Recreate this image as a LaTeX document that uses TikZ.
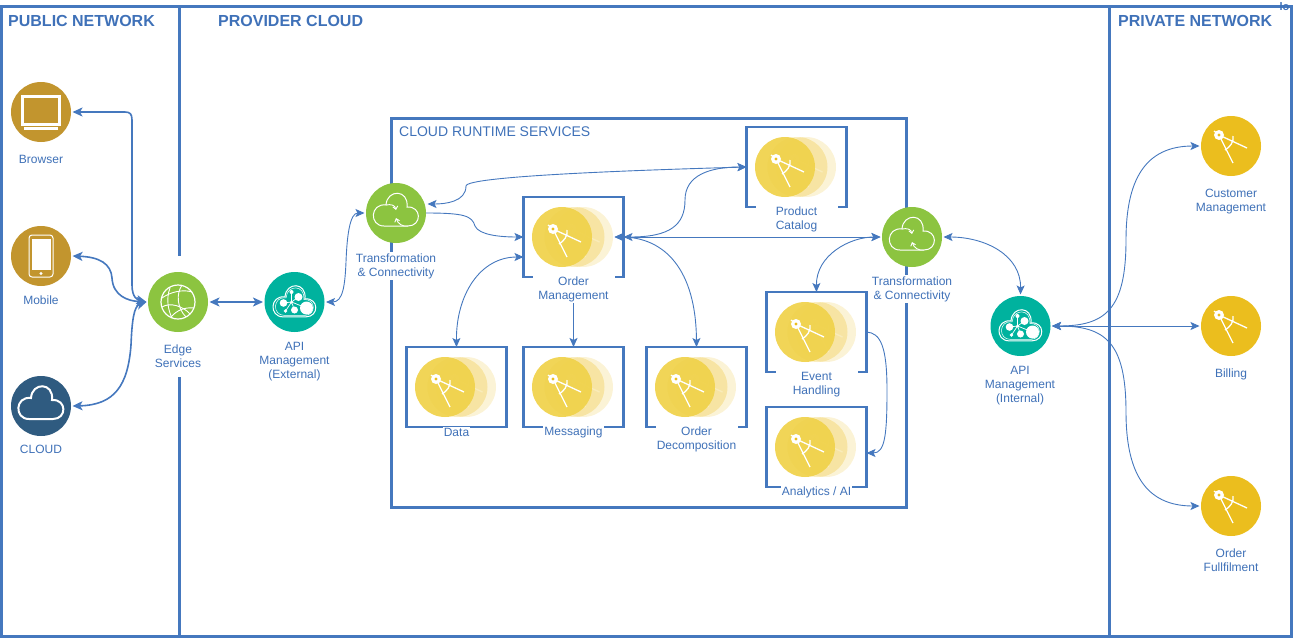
\documentclass[tikz,border=0pt]{standalone}
\usepackage{fontspec}
\setmainfont{Liberation Sans}
\usetikzlibrary{arrows.meta}
\definecolor{linkblue}{HTML}{4578BE}
\definecolor{textblue}{HTML}{3F71B8}
\definecolor{browngold}{HTML}{C2952E}
\definecolor{clouddark}{HTML}{2F5B80}
\definecolor{edgegreen}{HTML}{8CC440}
\definecolor{apiteal}{HTML}{00B29E}
\definecolor{custyellow}{HTML}{EBBE1E}
\definecolor{frontyellow}{HTML}{F0D24A}
\tikzset{
    frameline/.style = {draw = linkblue, line width = 3pt},
    boxline/.style = {draw = linkblue, line width = 2.7pt},
    hub/.style = {circle, minimum size = 60pt, inner sep = 0pt, outer sep = 1.5pt},
    servicebox/.style = {minimum width = 100pt, minimum height = 80pt, inner sep = 0pt, outer sep = 0pt},
    caption/.style = {text = textblue, fill = white, align = center, inner sep = 1pt, font = \fontsize{12}{14}\selectfont},
    heading/.style = {text = textblue, inner sep = 0pt, font = \fontsize{16}{18}\bfseries\selectfont},
    thicklink/.style = {draw = linkblue, line width = 1.6pt, <->, >={Stealth[length = 10pt, width = 9pt, inset = 2.5pt]}},
    thinlink/.style = {draw = linkblue, line width = 0.9pt, <->, >={Stealth[length = 9pt, width = 8pt, inset = 2pt]}},
    pics/compass/.style = {code = {
        \draw[white, line width = 1.3pt] (-12,-11) -- (2,17);
        \draw[white, line width = 1.3pt] (-12,-11) -- (16,2);
        \draw[white, line width = 1.3pt] (-12,-11) -- (-17,-15);
        \draw[white, line width = 1.3pt] (2,-10) .. controls (3,-4) and (-1,1) .. (-6,4);
        \fill[white] (-12,-11) circle[radius = 5];
        \fill[custyellow] (-12,-11) circle[radius = 1.6];
    }},
    pics/cloudline/.style = {code = {
        \draw[white, line width = #1] (-12,13) .. controls (-27,13) and (-26,-10) .. (-10,-8) .. controls (-9,-24) and (13,-24) .. (11,-6) .. controls (26,-7) and (26,13) .. (12,13) -- cycle;
    }},
    pics/transicon/.style = {code = {
        \pic {cloudline = 1pt};
        \draw[white, line width = 0.9pt, -{Straight Barb[length = 3pt, width = 5pt]}] (-10,-8) .. controls (-5,-9) and (-1,-8) .. (0,-3);
        \draw[white, line width = 0.9pt, -{Straight Barb[length = 3pt, width = 5pt]}] (12,13) .. controls (7,14) and (2,11) .. (0,5);
    }},
    pics/apiicon/.style = {code = {
        \pic[yshift = -2.5pt, scale = 0.95] {cloudline = 1pt};
        \pic[yshift = -2.5pt, scale = 0.84] {cloudline = 0.5pt};
        \draw[white, line width = 0.7pt] (-11,1) -- (-3,0) -- (4,-5) (-3,-10) -- (-3,0) -- (0,8) (-9,9) -- (-3,0) -- (12,6);
        \fill[white] (12,6) circle[radius = 6.5] (4,-5) circle[radius = 4] (-11,1) circle[radius = 3.8] (0,8) circle[radius = 3.5] (-3,-10) circle[radius = 2] (-9,9) circle[radius = 1.8] (-3,0) circle[radius = 1.5];
    }},
    pics/globeicon/.style = {code = {
        \draw[white, line width = 1.2pt] (0,0) circle[radius = 17];
        \draw[white, line width = 0.9pt] (-16,-4) .. controls (-8,-10) and (5,-13) .. (14,-10);
        \draw[white, line width = 0.9pt] (-16,5) .. controls (-8,0) and (5,4) .. (12,12);
        \draw[white, line width = 0.9pt] (-8,-14) .. controls (-12,-4) and (-10,8) .. (-6,16);
        \draw[white, line width = 0.9pt] (4,-17) .. controls (-2,-8) and (-1,6) .. (8,15);
        \draw[white, line width = 0.9pt] (-7,15) .. controls (-1,8) and (7,5) .. (16,6);
    }},
}
\begin{document}
\begin{tikzpicture}[x = 1pt, y = -1pt]
    \useasboundingbox (0,0) rectangle (1293,638);
    % outer frame and zones
    \draw[frameline] (1.4,6.5) rectangle (1291.5,636);
    \draw[frameline] (179,7) -- (179,256);
    \draw[frameline] (179,377) -- (179,636);
    \draw[frameline] (1109,7) -- (1109,636);
    \draw[frameline] (391,118) rectangle (906,507);
    \node[heading, anchor = west] (publicnet) at (8,21) {PUBLIC NETWORK};
    \node[heading, anchor = west] (providercloud) at (218,21) {PROVIDER CLOUD};
    \node[heading, anchor = west] (privatenet) at (1118,21) {PRIVATE NETWORK};
    \node[text = textblue, anchor = west, inner sep = 0pt, font = \fontsize{14}{16}\selectfont] (runtime) at (399,132) {CLOUD RUNTIME SERVICES};
    \node[text = textblue, inner sep = 0pt, font = \fontsize{11}{12}\bfseries\selectfont] (corner) at (1284.5,7) {lo};
    % service boxes
    \foreach \name/\cx/\cy/\stub/\ly/\txt in {
        order/573.5/237/9/289/{Order\\Management},
        catalog/796.5/167/9/219/{Product\\Catalog},
        data/456.5/387/50/432/{Data},
        messaging/573.5/387/50/432/{Messaging},
        decomp/696.5/387/9/439/{Order\\Decomposition},
        event/816.5/332/9/385/{Event\\Handling},
        analytics/816.5/447/50/492/{Analytics / AI}} {
        \node[servicebox] (\name) at (\cx,\cy) {};
        \draw[boxline] ([xshift = \stub pt]\name.south west) -- (\name.south west) -- (\name.north west) -- (\name.north east) -- (\name.south east) -- ([xshift = -\stub pt]\name.south east);
        \fill[custyellow, opacity = 0.18] (\cx+9.5,\cy) circle[radius = 30];
        \fill[custyellow, opacity = 0.28] (\cx+1,\cy) circle[radius = 30];
        \pic[opacity = 0.25] at (\cx+10,\cy+3) {compass};
        \fill[frontyellow, opacity = 0.93] (\cx-11.5,\cy) circle[radius = 30];
        \pic at (\cx-8.5,\cy+3) {compass};
        \node[caption] (\name-label) at (\cx,\ly) {\txt};
    }
    % round nodes
    \foreach \name/\cx/\cy/\col in {
        browser/41/112/browngold, mobile/41/256/browngold, cloud/41/406/clouddark,
        edge/178/302/edgegreen, apiext/294.5/302/apiteal, transin/396/213/edgegreen,
        transout/912/237/edgegreen, apiint/1020.5/326/apiteal,
        customer/1231/146/custyellow, billing/1231/326/custyellow, fulfil/1231/506/custyellow} {
        \node[hub, fill = \col] (\name) at (\cx,\cy) {};
    }
    \foreach \name/\lx/\ly/\txt in {
        browser/41/159/{Browser}, mobile/41/300/{Mobile}, cloud/41/449/{CLOUD},
        edge/178/356/{Edge\\Services}, apiext/294.5/361.5/{API\\Management\\(External)},
        transin/396/266/{Transformation\\\& Connectivity}, transout/912/289/{Transformation\\\& Connectivity},
        apiint/1020/386/{API\\Management\\(Internal)}, customer/1231/202/{Customer\\Management},
        billing/1231/374/{Billing}, fulfil/1231/560/{Order\\Fullfilment}} {
        \node[caption] (\name-label) at (\lx,\ly) {\txt};
    }
    % icons
    \foreach \name in {customer, billing, fulfil} {
        \pic at (\name) {compass};
    }
    \foreach \name in {transin, transout} {
        \pic at (\name) {transicon};
    }
    \foreach \name in {apiext, apiint} {
        \pic at (\name) {apiicon};
    }
    \pic at (edge) {globeicon};
    \pic at (cloud) {cloudline = 2pt};
    \draw[white, line width = 3pt] (22.5,96.2) rectangle (59.5,124.5);
    \fill[white] (24,127) rectangle (58,129.5);
    \draw[white, line width = 1pt, rounded corners = 3pt] (29,235) rectangle (53,277);
    \fill[white] (31.5,239) rectangle (50.5,270);
    \fill[white] (41,273.5) circle[radius = 1.6];
    % thick connectors
    \draw[thicklink] (browser.east) -- (125,112) .. controls (130,112) and (132,114) .. (132,120) -- (132,285) .. controls (132,298) and (138,300) .. (edge.west);
    \draw[thicklink] (mobile.east) .. controls (100,257) and (111,264) .. (112,278) .. controls (113,296) and (128,301) .. (edge.west);
    \draw[thicklink] (cloud.east) .. controls (115,405) and (128,385) .. (131,345) .. controls (132,320) and (134,306) .. (edge.west);
    \draw[thicklink] (edge.east) -- (apiext.west);
    % thin connectors
    \coordinate (orderport) at ([xshift = -9pt]order.east);
    \draw[thinlink] (apiext.east) .. controls (343,302) and (345,285) .. (346,262) .. controls (347,235) and (350,213) .. (transin.west);
    \draw[thinlink, ->] ([xshift = -1.5pt]transin.east) .. controls (465,213) and (472,216) .. (475,226) .. controls (479,235) and (500,237) .. (order.west);
    \draw[thinlink] ([yshift = 9pt]transin.east) .. controls (445,204) and (466,202) .. (466,186) .. controls (466,176) and (640,170) .. (catalog.west);
    \draw[thinlink] (order.east) .. controls (670,237) and (685,225) .. (685,200) .. controls (685,175) and (710,167) .. (catalog.west);
    \draw[thinlink] (data.north) .. controls (456,295) and (480,257) .. ([yshift = -20pt]order.west);
    \draw[thinlink, ->] (order-label.south) -- (messaging.north);
    \draw[thinlink] (orderport) .. controls (665,237) and (696,270) .. (decomp.north);
    \draw[thinlink] (orderport) -- (transout.west);
    \draw[thinlink] (transout.west) .. controls (850,237) and (816,255) .. (event.north);
    \draw[thinlink] (transout.east) .. controls (985,237) and (1021,255) .. (apiint.north);
    \draw[thinlink, ->] (event.east) .. controls (880,333) and (887,345) .. (887,390) .. controls (887,435) and (885,453) .. ([yshift = -6pt]analytics.east);
    \draw[thinlink] (apiint.east) .. controls (1105,326) and (1126,310) .. (1126,240) .. controls (1126,180) and (1145,146) .. (customer.west);
    \draw[thinlink] (apiint.east) -- (billing.west);
    \draw[thinlink] (apiint.east) .. controls (1105,326) and (1126,342) .. (1126,412) .. controls (1126,472) and (1145,506) .. (fulfil.west);
\end{tikzpicture}
\end{document}
